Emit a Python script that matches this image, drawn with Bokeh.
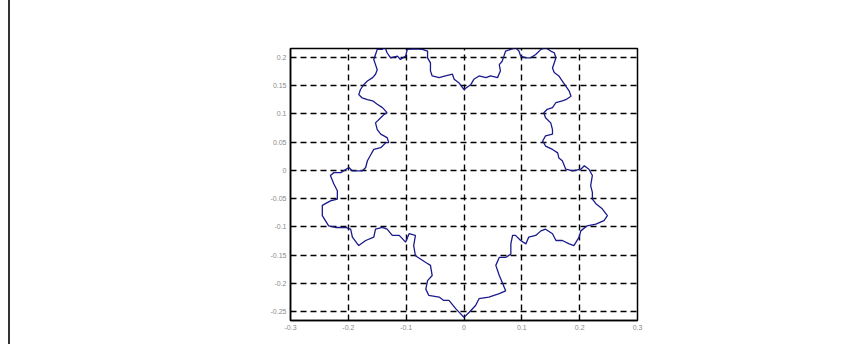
from bokeh.plotting import figure
from bokeh.models import FixedTicker, Range1d
from bokeh.embed import file_html
from bokeh.resources import INLINE

# Curve (closed outline, clockwise from bottom tip)
curve_x = [
    0.000, -0.014, -0.026, -0.035, -0.043, -0.061, -0.066, -0.063, -0.055, -0.058,
    -0.066, -0.084, -0.087, -0.084, -0.095, -0.101, -0.112, -0.124, -0.133, -0.141,
    -0.153, -0.156, -0.170, -0.182, -0.193, -0.196, -0.205, -0.222, -0.234, -0.245,
    -0.245, -0.231, -0.219, -0.219, -0.225, -0.231, -0.225, -0.213, -0.199, -0.193,
    -0.176, -0.170, -0.167, -0.161, -0.156, -0.144, -0.135, -0.130, -0.133, -0.144,
    -0.150, -0.153, -0.144, -0.138, -0.133, -0.141, -0.150, -0.158, -0.167, -0.176,
    -0.182, -0.179, -0.173, -0.167, -0.158, -0.153, -0.150, -0.153, -0.156, -0.153,
    -0.150, -0.141, -0.137, -0.133, -0.127, -0.115, -0.110, -0.101, -0.098, -0.084,
    -0.072, -0.063, -0.063, -0.058, -0.058, -0.055, -0.043, -0.032, -0.020, -0.017,
    -0.009, 0.000, 0.012, 0.017, 0.026, 0.038, 0.046, 0.058, 0.063, 0.061,
    0.066, 0.069, 0.072, 0.081, 0.089, 0.095, 0.098, 0.107, 0.115, 0.124,
    0.133, 0.141, 0.150, 0.156, 0.159, 0.156, 0.153, 0.156, 0.164, 0.170,
    0.176, 0.182, 0.185, 0.176, 0.170, 0.159, 0.153, 0.144, 0.138, 0.141,
    0.150, 0.153, 0.153, 0.141, 0.136, 0.141, 0.153, 0.162, 0.164, 0.170,
    0.176, 0.188, 0.202, 0.208, 0.216, 0.222, 0.219, 0.222, 0.222, 0.228,
    0.239, 0.248, 0.242, 0.228, 0.213, 0.202, 0.199, 0.190, 0.182, 0.170,
    0.159, 0.153, 0.141, 0.133, 0.124, 0.112, 0.107, 0.098, 0.089, 0.084,
    0.081, 0.081, 0.072, 0.061, 0.055, 0.061, 0.066, 0.072, 0.061, 0.043,
    0.026, 0.020, 0.009, 0.000,
]
curve_y = [
    -0.260, -0.245, -0.230, -0.230, -0.224, -0.221, -0.210, -0.195, -0.186, -0.168,
    -0.163, -0.151, -0.133, -0.115, -0.112, -0.127, -0.115, -0.115, -0.104, -0.101,
    -0.104, -0.118, -0.124, -0.133, -0.118, -0.104, -0.101, -0.101, -0.098, -0.080,
    -0.062, -0.054, -0.051, -0.036, -0.024, -0.009, -0.004, -0.004, 0.005, -0.001,
    -0.001, 0.005, 0.017, 0.028, 0.037, 0.040, 0.049, 0.049, 0.058, 0.064,
    0.072, 0.084, 0.093, 0.099, 0.102, 0.111, 0.117, 0.123, 0.125, 0.128,
    0.134, 0.143, 0.152, 0.158, 0.164, 0.170, 0.178, 0.187, 0.196, 0.205,
    0.214, 0.214, 0.219, 0.208, 0.199, 0.202, 0.196, 0.202, 0.214, 0.215,
    0.214, 0.211, 0.199, 0.190, 0.176, 0.167, 0.164, 0.167, 0.170, 0.161,
    0.155, 0.143, 0.152, 0.161, 0.167, 0.164, 0.167, 0.164, 0.176, 0.187,
    0.193, 0.202, 0.211, 0.214, 0.217, 0.211, 0.202, 0.199, 0.199, 0.205,
    0.214, 0.217, 0.211, 0.208, 0.199, 0.190, 0.181, 0.173, 0.167, 0.158,
    0.149, 0.140, 0.131, 0.125, 0.123, 0.120, 0.111, 0.108, 0.102, 0.093,
    0.084, 0.072, 0.064, 0.061, 0.052, 0.043, 0.037, 0.031, 0.022, 0.017,
    0.002, -0.001, 0.002, 0.008, 0.002, -0.009, -0.027, -0.039, -0.051, -0.059,
    -0.068, -0.080, -0.089, -0.095, -0.098, -0.107, -0.118, -0.133, -0.130, -0.124,
    -0.124, -0.112, -0.104, -0.107, -0.115, -0.118, -0.130, -0.124, -0.115, -0.115,
    -0.130, -0.148, -0.154, -0.154, -0.168, -0.186, -0.198, -0.213, -0.218, -0.224,
    -0.227, -0.239, -0.251, -0.260,
]

x_ticks = [-0.3, -0.2, -0.1, 0.0, 0.1, 0.2, 0.3]
x_tick_labels = ["-0.3", "-0.2", "-0.1", "0", "0.1", "0.2", "0.3"]
y_ticks = [-0.25, -0.2, -0.15, -0.1, -0.05, 0.0, 0.05, 0.1, 0.15, 0.2]
y_tick_labels = ["-0.25", "-0.2", "-0.15", "-0.1", "-0.05", "0", "0.05", "0.1", "0.15", "0.2"]

p = figure(
    width=851, height=344,
    x_range=Range1d(-0.3, 0.3), y_range=Range1d(-0.2655, 0.2155),
    output_backend="svg", toolbar_location=None,
    min_border_left=280, min_border_right=224, min_border_top=48, min_border_bottom=24,
    background_fill_color="white", border_fill_color="white",
)
p.styles = {"border-left": "2px solid #333333", "margin-left": "8px"}

p.line(curve_x, curve_y, line_color="#1a1a8c", line_width=1.3)

p.xaxis.ticker = FixedTicker(ticks=x_ticks)
p.yaxis.ticker = FixedTicker(ticks=y_ticks)
p.xaxis.major_label_overrides = {t: s for t, s in zip(x_ticks, x_tick_labels)}
p.yaxis.major_label_overrides = {t: s for t, s in zip(y_ticks, y_tick_labels)}

for ax in (p.xaxis, p.yaxis):
    ax.axis_line_color = "black"
    ax.axis_line_width = 1.5
    ax.major_tick_in = 4
    ax.major_tick_out = 0
    ax.major_tick_line_color = "black"
    ax.minor_tick_line_color = None
    ax.major_label_text_font = "Liberation Sans"
    ax.major_label_text_font_size = "7px"
    ax.major_label_text_color = "#8a8a8a"
    ax.major_label_standoff = 4

p.outline_line_color = "black"
p.outline_line_width = 1.5
p.outline_line_alpha = 1.0

p.grid.grid_line_color = "black"
p.grid.grid_line_dash = "6 4"
p.grid.grid_line_width = 1.4
p.grid.grid_line_alpha = 1.0

open("out.html", "w").write(file_html(p, INLINE))
